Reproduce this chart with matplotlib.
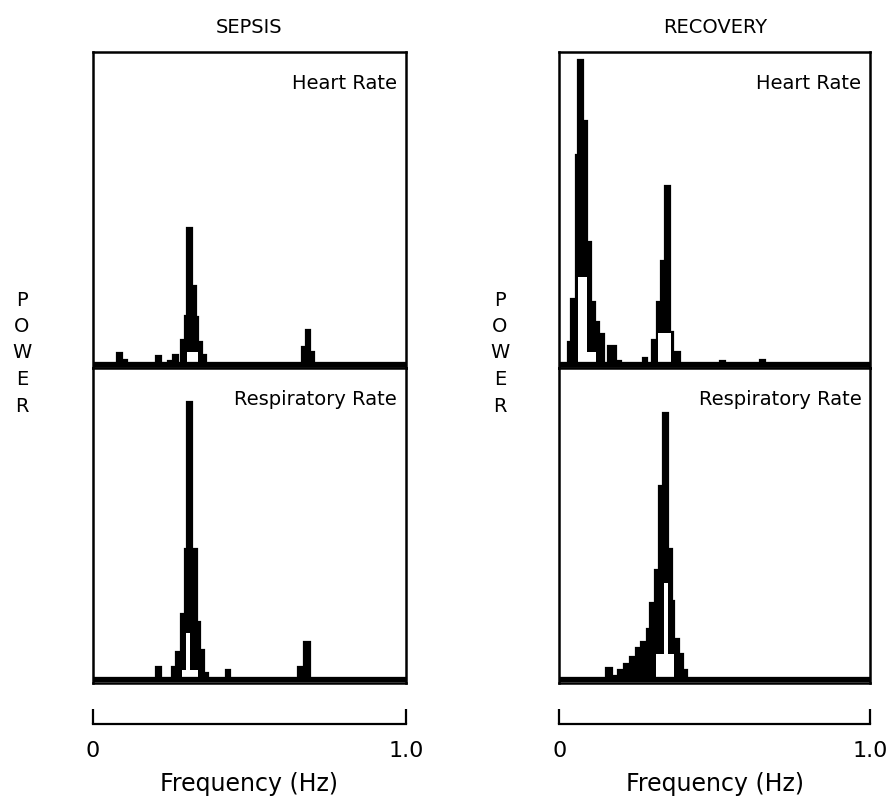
import matplotlib
matplotlib.use("Agg")
from matplotlib import pyplot as plt

# ---------- Spectra: step edges (Hz) and power (fraction of panel height) ----------
sepsis_hr_edges = [0, 0.076, 0.092, 0.108, 0.201, 0.216, 0.240, 0.256, 0.272, 0.280, 0.294,
                   0.301, 0.315, 0.329, 0.336, 0.347, 0.361, 0.667, 0.681, 0.693, 0.706, 1.0]
sepsis_hr_power = [0, 0.037, 0.013, 0, 0.025, 0, 0.01, 0.03, 0, 0.078, 0.154,
                   0.437, 0.25, 0.15, 0.07, 0.03, 0, 0.055, 0.11, 0.04, 0]
sepsis_hr_gap_edges = [0.299, 0.337]
sepsis_hr_gap_power = [0.04]

sepsis_rr_edges = [0, 0.200, 0.217, 0.251, 0.265, 0.281, 0.294, 0.300, 0.315, 0.331,
                   0.342, 0.355, 0.367, 0.424, 0.438, 0.656, 0.674, 0.693, 1.0]
sepsis_rr_power = [0, 0.04, 0, 0.04, 0.087, 0.21, 0.42, 0.89, 0.42,
                   0.185, 0.093, 0.02, 0, 0.03, 0, 0.04, 0.12, 0]
sepsis_rr_gap_edges = [0.284, 0.298, 0.311, 0.336]
sepsis_rr_gap_power = [0.03, 0.15, 0.03]

recovery_hr_edges = [0, 0.026, 0.037, 0.052, 0.059, 0.077, 0.090, 0.102, 0.114, 0.128,
                     0.144, 0.155, 0.182, 0.198, 0.269, 0.282, 0.297, 0.313, 0.327, 0.340,
                     0.356, 0.367, 0.388, 0.517, 0.533, 0.646, 0.662, 1.0]
recovery_hr_power = [0, 0.071, 0.21, 0.67, 0.973, 0.78, 0.39, 0.2, 0.135, 0.098,
                     0, 0.057, 0.01, 0, 0.02, 0, 0.077, 0.2, 0.33, 0.57,
                     0.103, 0.04, 0, 0.01, 0, 0.015, 0]
recovery_hr_gap_edges = [0.058, 0.090, 0.116, 0.316, 0.358]
recovery_hr_gap_power = [0.28, 0.04, 0, 0.1]

recovery_rr_edges = [0, 0.150, 0.169, 0.188, 0.208, 0.227, 0.246, 0.262, 0.281, 0.291,
                     0.307, 0.321, 0.334, 0.350, 0.361, 0.370, 0.385, 0.398, 0.411, 1.0]
recovery_rr_power = [0, 0.035, 0.01, 0.03, 0.05, 0.07, 0.1, 0.12, 0.16, 0.245,
                     0.35, 0.62, 0.854, 0.418, 0.25, 0.13, 0.08, 0.03, 0]
recovery_rr_gap_edges = [0.310, 0.338, 0.349, 0.370]
recovery_rr_gap_power = [0.08, 0.31, 0.08]

columns = ["SEPSIS", "RECOVERY"]
rows = ["Heart Rate", "Respiratory Rate"]
freq_ticks = [0, 1.0]
freq_tick_labels = ["0", "1.0"]

spectra = {
    ("SEPSIS", "Heart Rate"): (sepsis_hr_edges, sepsis_hr_power, sepsis_hr_gap_edges, sepsis_hr_gap_power),
    ("SEPSIS", "Respiratory Rate"): (sepsis_rr_edges, sepsis_rr_power, sepsis_rr_gap_edges, sepsis_rr_gap_power),
    ("RECOVERY", "Heart Rate"): (recovery_hr_edges, recovery_hr_power, recovery_hr_gap_edges, recovery_hr_gap_power),
    ("RECOVERY", "Respiratory Rate"): (recovery_rr_edges, recovery_rr_power, recovery_rr_gap_edges, recovery_rr_gap_power),
}

# ---------- Layout (figure fractions) ----------
W, H = 895, 802
col_left = [93 / W, 559.5 / W]
col_width = [313 / W, 310.5 / W]
row_bottom = [1 - 368 / H, 1 - 683 / H]
row_height = [316 / H, 315 / H]
power_x = [22 / W, 500 / W]

fig = plt.figure(figsize=(W / 100, H / 100), dpi=100)

for c, col in enumerate(columns):
    for r, row in enumerate(rows):
        ax = fig.add_axes([col_left[c], row_bottom[r], col_width[c], row_height[r]])
        edges, power, gap_edges, gap_power = spectra[(col, row)]
        # thick step trace, filled like the printed spectra
        ax.stairs(power, edges, fill=True, facecolor="black", edgecolor="black",
                  lw=1.6, zorder=2)
        ax.stairs(gap_power, gap_edges, fill=True, color="white", lw=0, zorder=3)
        ax.axhline(0, color="black", lw=3.8, zorder=4)
        ax.set_xlim(0, 1)
        ax.set_ylim(-0.012, 1)
        ax.set_xticks([])
        ax.set_yticks([])
        for s in ax.spines.values():
            s.set_linewidth(1.8)
            s.set_zorder(5)
        ax.text(0.972, 0.882, row, transform=ax.transAxes, ha="right",
                va="baseline", fontsize=14)

    # column title
    fig.text(col_left[c] + col_width[c] / 2, 1 - 33 / H, col, ha="center",
             va="baseline", fontsize=14)

    # vertical POWER label
    for i, letter in enumerate("POWER"):
        fig.text(power_x[c], 1 - (300 + 26.5 * i) / H, letter, ha="center",
                 va="center", fontsize=14)

    # frequency scale bracket
    fax = fig.add_axes([col_left[c], 1 - 724 / H, col_width[c], 0.02])
    fax.set_xlim(0, 1)
    fax.set_yticks([])
    for side in ["top", "left", "right"]:
        fax.spines[side].set_visible(False)
    fax.spines["bottom"].set_linewidth(1.6)
    fax.patch.set_visible(False)
    fax.set_xticks(freq_ticks)
    fax.set_xticklabels(freq_tick_labels, fontsize=16)
    fax.tick_params(axis="x", direction="in", length=11, width=1.6, pad=12)
    fax.set_xlabel("Frequency (Hz)", fontsize=17, labelpad=8)

fig.savefig("out.png", dpi=100)
